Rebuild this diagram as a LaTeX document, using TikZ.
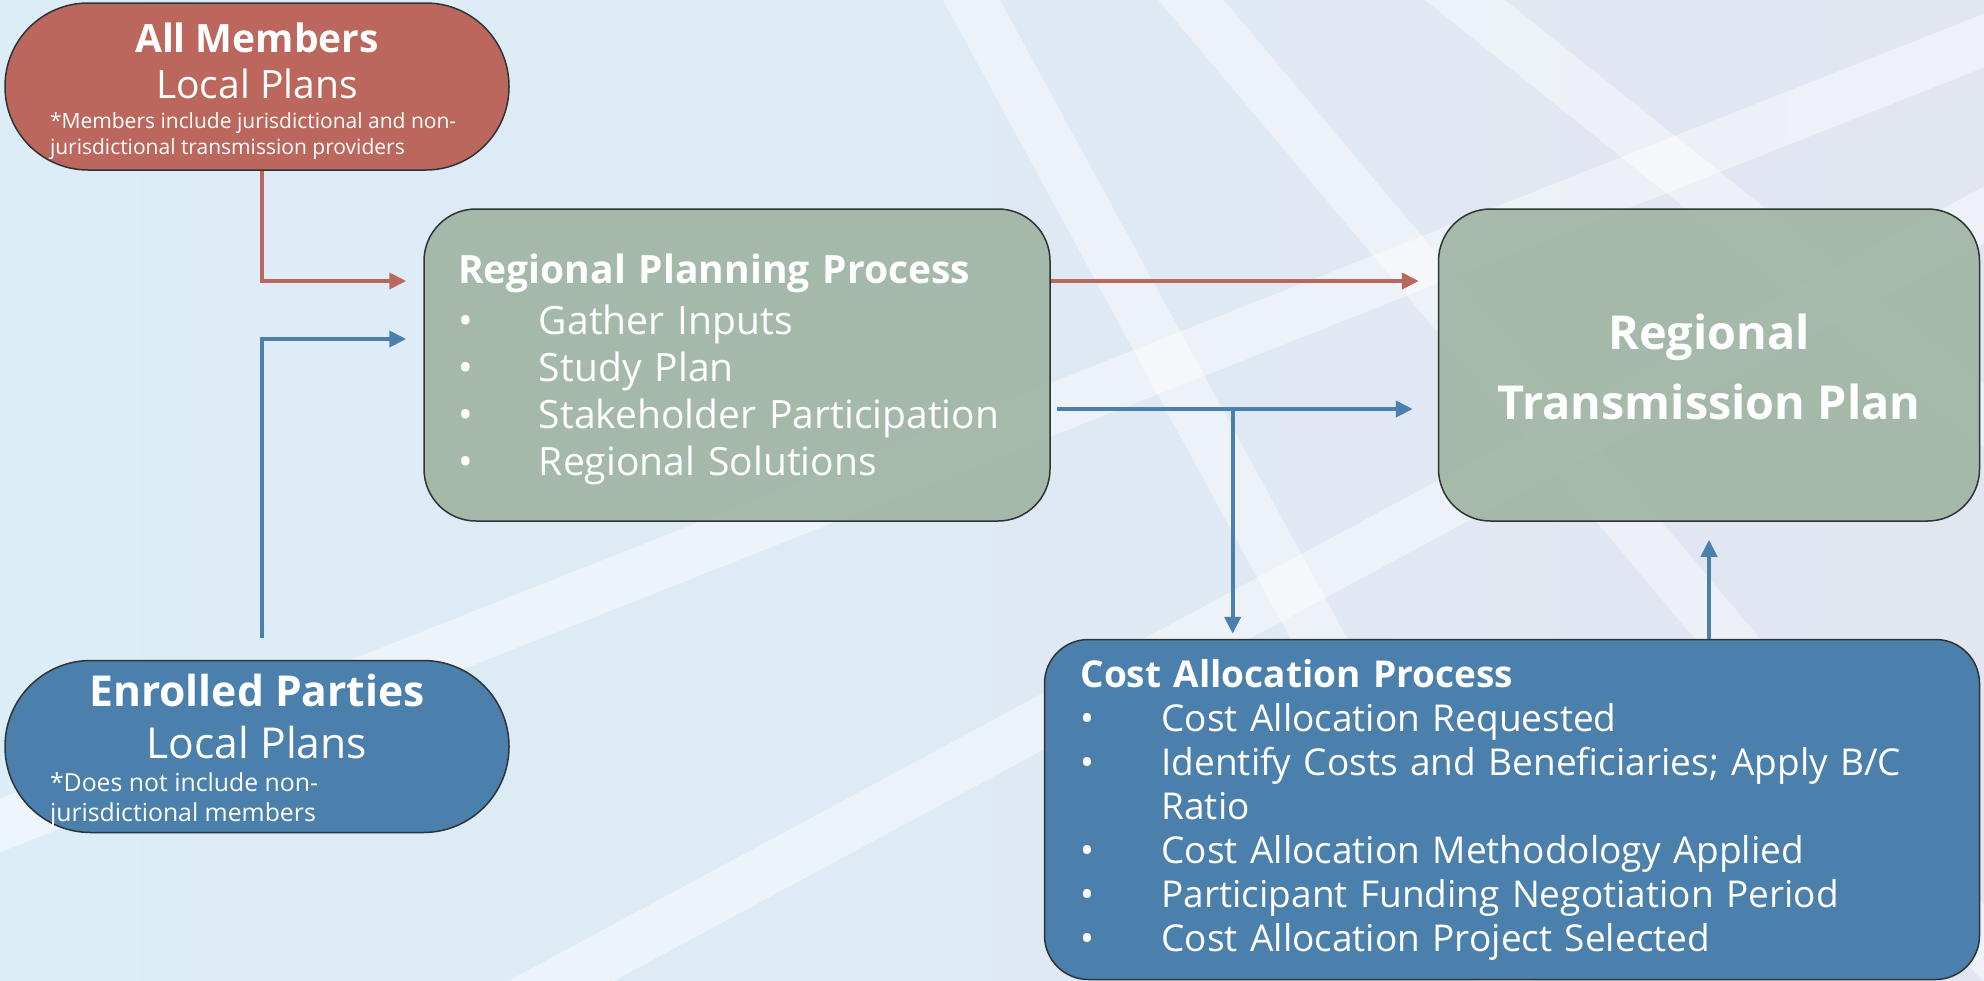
\documentclass[tikz,border=0pt]{standalone}
\usepackage{fontspec}
\setmainfont{Open Sans}
\usetikzlibrary{arrows.meta,positioning}
\definecolor{sky}{HTML}{DCEDF7}
\definecolor{haze}{HTML}{E1E6F1}
\definecolor{memred}{HTML}{BC675D}
\definecolor{enrblue}{HTML}{4A80AB}
\definecolor{sage}{HTML}{9DB3A0}
\definecolor{rim}{HTML}{2E3336}
\newcommand{\bitem}[1]{\makebox[40.5pt][l]{\textbullet}#1}

\begin{document}
\begin{tikzpicture}[
    x=0.5pt,y=-0.5pt,
    pill/.style={draw=rim,line width=0.75pt,minimum width=252pt,text=white,align=center,inner sep=0pt},
    procbox/.style={draw=rim,line width=0.75pt,text=white,align=left,inner ysep=0pt},
    greenbox/.style={procbox,fill=sage,fill opacity=0.88,text opacity=1,rounded corners=26pt,minimum height=156pt},
    bluebox/.style={procbox,fill=enrblue,rounded corners=22pt,minimum height=170pt},
    stripe/.style={white,opacity=0.45,line width=25pt},
    redline/.style={draw=memred,line width=2pt,-{Triangle[length=8.5pt,width=8pt]}},
    blueline/.style={draw=enrblue,line width=2pt,-{Triangle[length=8.5pt,width=8pt]}}
  ]
    \useasboundingbox (0,0) rectangle (1984,980);
    % background and light bands
    \fill[left color=sky,right color=haze] (0,0) rectangle (1984,980);
    \begin{scope}
      \clip (0,0) rectangle (1984,980);
      \draw[stripe] (917,-100) -- (1559,1080);
      \draw[stripe] (1107,-100) -- (2098,1080);
      \draw[stripe] (1340,-100) -- (2815,1080);
      \draw[stripe] (-100,865) -- (2084,1);
      \draw[stripe] (377,1080) -- (2084,161);
    \end{scope}

    \node[pill,fill=memred,minimum height=83.5pt,rounded corners=41.6pt,font=\fontsize{19.5pt}{23pt}\selectfont] (members) at (257,86.5)
      {{\rule{0pt}{19.5pt}\bfseries All Members}\\{Local Plans}\\[-8pt]
       {\parbox[t]{207pt}{\raggedright\fontsize{10.5pt}{13pt}\selectfont *Members include jurisdictional and non-\\jurisdictional transmission providers}}};
    \node[pill,fill=enrblue,minimum height=86pt,rounded corners=42.9pt,font=\fontsize{21.3pt}{26pt}\selectfont,below=244.5pt of members] (enrolled)
      {{\rule{0pt}{20.5pt}\bfseries Enrolled Parties}\\{Local Plans}\\[-9.5pt]
       {\parbox[t]{207pt}{\raggedright\fontsize{12.4pt}{15pt}\selectfont *Does not include non-\\jurisdictional members}}};

    \node[greenbox,text width=279pt,inner xsep=17pt,font=\fontsize{19.5pt}{23.5pt}\selectfont] (plan) at (737,365)
      {{\rule{0pt}{19.2pt}\bfseries Regional Planning Process}\\[1.9pt]
       \bitem{Gather Inputs}\\
       \bitem{Study Plan}\\
       \bitem{Stakeholder Participation}\\
       \bitem{Regional Solutions}};
    \node[greenbox,minimum width=270.5pt,align=center,font=\bfseries\fontsize{23.4pt}{35pt}\selectfont,right=193.5pt of plan] (rtp)
      {\rule{0pt}{20pt}Regional\\Transmission Plan};
    \node[bluebox,text width=431.5pt,inner xsep=18pt,font=\fontsize{18.5pt}{22pt}\selectfont,below left=58.5pt and 0pt of rtp.south east] (cost)
      {{\bfseries Cost Allocation Process}\\
       \bitem{Cost Allocation Requested}\\
       \bitem{Identify Costs and Beneficiaries; Apply B/C}\\
       \hspace*{40.5pt}Ratio\\
       \bitem{Cost Allocation Methodology Applied}\\
       \bitem{Participant Funding Negotiation Period}\\
       \bitem{Cost Allocation Project Selected}};

    \path ([yshift=-22pt]plan.east) -- ([yshift=-22pt]rtp.west) coordinate[pos=0.47] (split);

    \draw[redline,shorten >=8.5pt] ([xshift=2.5pt]members.south) |- ([yshift=42pt]plan.west);
    \draw[blueline,shorten <=11pt,shorten >=8.5pt] ([xshift=2.5pt]enrolled.north) |- ([yshift=13pt]plan.west);
    \draw[redline,shorten >=9.5pt] ([yshift=42pt]plan.east) -- ([yshift=42pt]rtp.west);
    \draw[blueline,shorten <=3pt,shorten >=12.5pt] ([yshift=-22pt]plan.east) -- ([yshift=-22pt]rtp.west);
    \draw[blueline,shorten >=2.5pt] (split) -- (split |- cost.north);
    \draw[blueline,shorten >=9pt] (cost.north -| rtp.south) -- (rtp.south);
  \end{tikzpicture}
\end{document}
